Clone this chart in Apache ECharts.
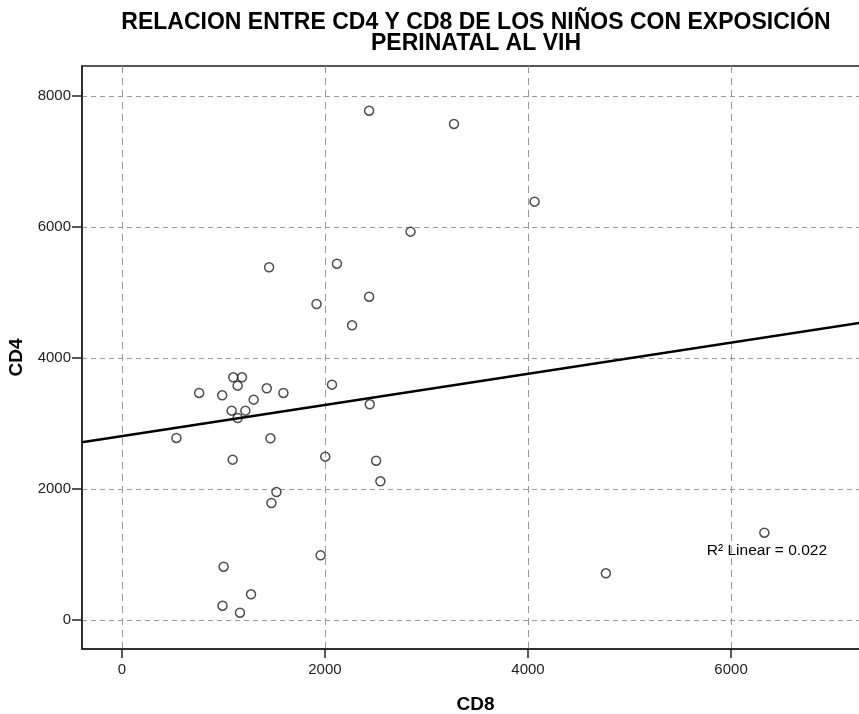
<!DOCTYPE html>
<html>
<head>
<meta charset="utf-8">
<script src="https://cdn.jsdelivr.net/npm/echarts@6/dist/echarts.min.js"></script>
<style>html,body{margin:0;padding:0;background:#fff}#c{width:859px;height:714px}</style>
</head>
<body>
<div id="c"></div>
<script>
const titleLines = ['RELACION ENTRE CD4 Y CD8 DE LOS NIÑOS CON EXPOSICIÓN', 'PERINATAL AL VIH'];
const xName = 'CD8';
const yName = 'CD4';
const cd8 = [1917, 2267, 1097, 1183, 1140, 761, 988, 1427, 1591, 1298, 1081, 1216, 1140, 537, 1463, 1091, 2069, 2003, 1522, 1473, 1957, 1002, 1272, 991, 1163, 1450, 2118, 2435, 3271, 4065, 2843, 2435, 2441, 2504, 2546, 6328, 4767];
const cd4 = [4824, 4499, 3705, 3705, 3578, 3466, 3430, 3537, 3466, 3364, 3196, 3196, 3084, 2779, 2774, 2448, 3593, 2494, 1954, 1786, 987, 814, 392, 218, 111, 5385, 5440, 7776, 7573, 6387, 5929, 4936, 3293, 2432, 2117, 1333, 713];
const xTicks = [0, 2000, 4000, 6000];
const yTicks = [0, 2000, 4000, 6000, 8000];
const fitLabel = 'R² Linear = 0.022';
const xMin = -393, xMax = 7280, yMin = -443, yMax = 8458;

// least squares fit
const n = cd8.length;
const mx = cd8.reduce((a, b) => a + b, 0) / n;
const my = cd4.reduce((a, b) => a + b, 0) / n;
let sxy = 0, sxx = 0;
for (let i = 0; i < n; i++) { sxy += (cd8[i] - mx) * (cd4[i] - my); sxx += (cd8[i] - mx) ** 2; }
const slope = sxy / sxx, intercept = my - slope * mx;
const fitLine = [[xMin, intercept + slope * xMin], [xMax, intercept + slope * xMax]];

const chart = echarts.init(document.getElementById('c'), null, {renderer: 'canvas'});
const font = 'Liberation Sans, Arial, sans-serif';
chart.setOption({
  animation: false,
  title: {
    text: titleLines.join('\n'),
    left: 471, top: 7, textAlign: 'center',
    textStyle: {fontFamily: font, fontSize: 23, fontWeight: 'bold', color: '#000', lineHeight: 21}
  },
  grid: {left: 82, top: 66, right: -2, bottom: 65, outerBoundsMode: 'none', containLabel: false,
    show: true, borderColor: '#222', borderWidth: 1.5, backgroundColor: 'transparent'},
  xAxis: {
    type: 'value', min: xMin, max: xMax, splitNumber: 8,
    name: xName, nameLocation: 'middle', nameGap: 46,
    nameTextStyle: {fontFamily: font, fontSize: 19, fontWeight: 'bold', color: '#000', padding: [0, 0, 0, 8]},
    axisLine: {show: true, onZero: false, lineStyle: {color: '#222', width: 1.5}},
    axisTick: {show: true, customValues: xTicks, length: 9, lineStyle: {color: '#222', width: 1.5}},
    axisLabel: {customValues: xTicks, fontFamily: font, fontSize: 15, color: '#222', margin: 13,
      formatter: v => (xTicks.indexOf(v) >= 0 ? String(v) : '')},
    splitLine: {show: true, lineStyle: {color: '#999', type: [7, 5], width: 1}}
  },
  yAxis: {
    type: 'value', min: yMin, max: yMax, splitNumber: 4,
    name: yName, nameLocation: 'middle', nameGap: 50, nameRotate: 90,
    nameTextStyle: {fontFamily: font, fontSize: 19, fontWeight: 'bold', color: '#000'},
    axisLine: {show: true, onZero: false, lineStyle: {color: '#222', width: 1.5}},
    axisTick: {show: true, customValues: yTicks, length: 10, lineStyle: {color: '#222', width: 1.5}},
    axisLabel: {customValues: yTicks, fontFamily: font, fontSize: 15, color: '#222', margin: 11,
      formatter: v => (yTicks.indexOf(v) >= 0 ? String(v) : '')},
    splitLine: {show: true, lineStyle: {color: '#999', type: [5, 4], width: 1}}
  },
  series: [
    {
      type: 'scatter', data: cd8.map((x, i) => [x, cd4[i]]),
      symbol: 'circle', symbolSize: 9,
      itemStyle: {color: 'rgba(255,255,255,0)', borderColor: '#222', borderWidth: 1.5}
    },
    {
      type: 'line', data: fitLine, showSymbol: false, symbol: 'none',
      lineStyle: {color: '#000', width: 2.6}, clip: true, z: 3
    }
  ],
  graphic: [{
    type: 'text', x: 827, y: 551,
    style: {text: fitLabel, fontFamily: font, fontSize: 15.5, fill: '#000', align: 'right', verticalAlign: 'middle'}
  }]
});
</script>
</body>
</html>
